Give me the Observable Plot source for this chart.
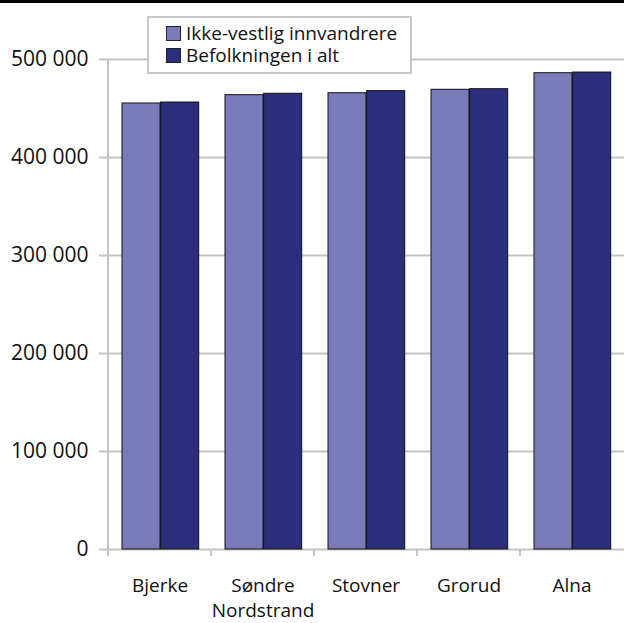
<!DOCTYPE html>
<html>
<head>
<meta charset="utf-8">
<script src="https://cdn.jsdelivr.net/npm/d3@7"></script>
<script src="https://cdn.jsdelivr.net/npm/@observablehq/plot@0.6"></script>
<style>
  html, body { margin: 0; padding: 0; background: #fff; }
  #wrap { position: relative; width: 624px; height: 623px; overflow: hidden; font-family: "Open Sans", sans-serif; }
  #topline { position: absolute; left: 0; top: 0; width: 624px; height: 3px; background: #000; }
  #legend { position: absolute; left: 147px; top: 16px; width: 261px; height: 54px; border: 2px solid #c8c8c8; background: #fff; box-sizing: content-box; }
  .item { position: absolute; left: 17px; height: 22px; line-height: 22px; font-size: 19px; color: #111; white-space: nowrap; }
  .sw { display: inline-block; width: 13px; height: 13px; border: 1px solid #222; margin-right: 5px; vertical-align: -1px; }
</style>
</head>
<body>
<div id="wrap">
  <div id="chart"></div>
  <div id="topline"></div>
  <div id="legend"></div>
</div>
<script>
const districts = ["Bjerke", "Søndre Nordstrand", "Stovner", "Grorud", "Alna"];
const districtLabels = ["Bjerke", "Søndre\nNordstrand", "Stovner", "Grorud", "Alna"];
const seriesNames = ["Ikke-vestlig innvandrere", "Befolkningen i alt"];
const seriesColors = ["#7b7bb9", "#2a2e7b"];
const ikkeVestlig = [455100, 463600, 465600, 469100, 486000];
const befolkning = [456100, 465000, 467700, 469700, 486700];
const yTicks = [0, 100000, 200000, 300000, 400000, 500000];

const rows = districts.map((d, i) => ({district: d, a: ikkeVestlig[i], b: befolkning[i]}));
const fmt = d => d3.format(",")(d).replace(/,/g, " ");
const labelOf = d => districtLabels[districts.indexOf(d)];

const chart = Plot.plot({
  width: 624,
  height: 623,
  marginLeft: 106,
  marginRight: 0,
  marginTop: 59,
  marginBottom: 74,
  style: {fontFamily: "'Open Sans', sans-serif", fontSize: "19px", color: "#111", background: "transparent"},
  x: {domain: districts, padding: 0, label: null},
  y: {domain: [0, 500000], label: null},
  marks: [
    Plot.gridY(yTicks, {stroke: "#c4c4c4", strokeOpacity: 1, strokeWidth: 2}),
    Plot.ruleX([districts[0]], {dx: -52, stroke: "#c4c4c4", strokeWidth: 2}),
    Plot.barY(rows, {x: "district", y: "a", fill: seriesColors[0], stroke: "#111", strokeWidth: 1, insetLeft: 14, insetRight: 51}),
    Plot.barY(rows, {x: "district", y: "b", fill: seriesColors[1], stroke: "#111", strokeWidth: 1, insetLeft: 52.6, insetRight: 12.3}),
    Plot.axisY({ticks: yTicks, tickSize: 7, tickPadding: 11, stroke: "#c4c4c4", strokeWidth: 2, fill: "#111", tickFormat: fmt, label: null, fontSize: 21}),
    Plot.axisX({tickSize: 7, dx: -52, stroke: "#c4c4c4", strokeWidth: 2, tickFormat: () => "", label: null}),
    Plot.axisX({tickSize: 0, tickPadding: 25, tickFormat: labelOf, label: null, fill: "#111", fontSize: 19, lineHeight: 1.32})
  ]
});
document.getElementById("chart").appendChild(chart);

const legend = document.getElementById("legend");
seriesNames.forEach((name, i) => {
  const div = document.createElement("div");
  div.className = "item";
  div.style.top = (4 + i * 22) + "px";
  const sw = document.createElement("span");
  sw.className = "sw";
  sw.style.background = seriesColors[i];
  div.appendChild(sw);
  div.appendChild(document.createTextNode(name));
  legend.appendChild(div);
});
</script>
</body>
</html>
